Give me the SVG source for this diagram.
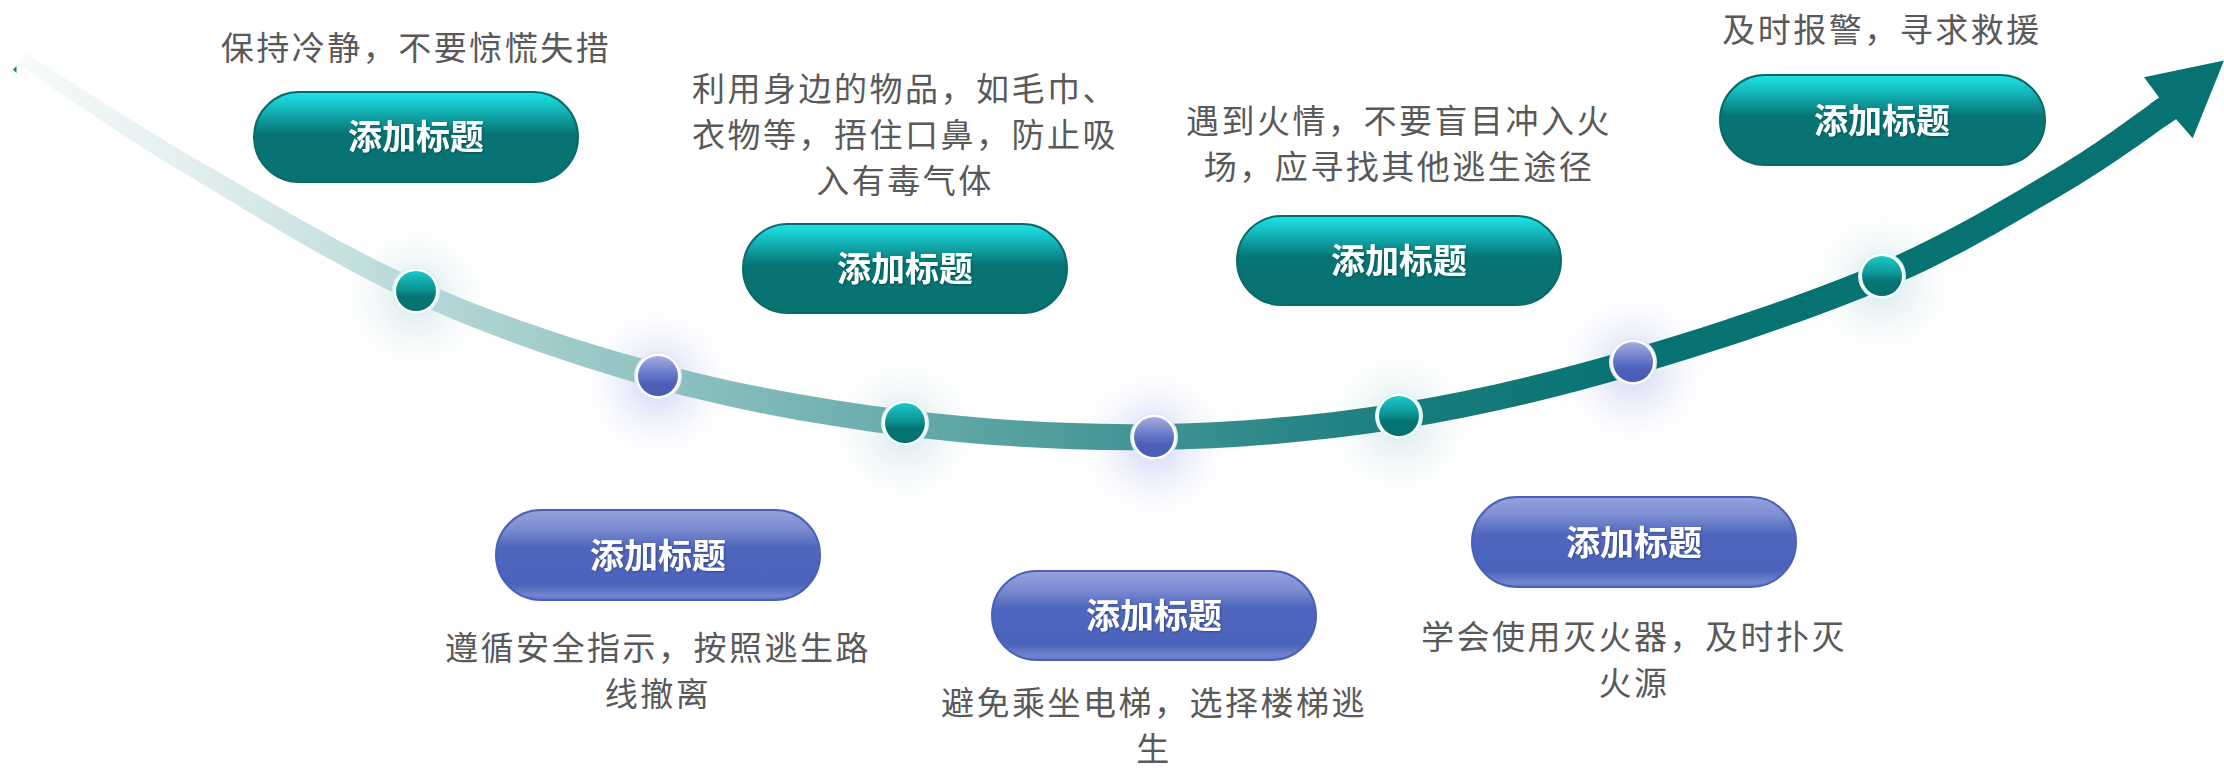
<svg xmlns="http://www.w3.org/2000/svg" width="2224" height="770" viewBox="0 0 2224 770">
<style>
.desc{font-family:"Noto Sans CJK SC","Noto Sans",sans-serif;font-size:33px;fill:#595959;letter-spacing:2.5px;text-anchor:middle}
.title{font-family:"Noto Sans CJK SC","Noto Sans",sans-serif;font-weight:700;font-size:34px;fill:#ffffff;text-anchor:middle;filter:url(#ts)}
.pt{fill:url(#pillTeal);stroke:#0a6969;stroke-width:2}
.pb{fill:url(#pillBlue);stroke:#4a60b8;stroke-width:2}
.haloT{fill:#d2f6f8}
.haloB{fill:#e2e5f8}
.ring{fill:#ffffff}
.dt{fill:url(#dotTeal)}
.db{fill:url(#dotBlue)}
</style>
<defs>
<linearGradient id="band" gradientUnits="userSpaceOnUse" x1="18" y1="0" x2="1700" y2="0">
<stop offset="0" stop-color="#f7fbfb"/>
<stop offset="0.102" stop-color="#e3efef"/>
<stop offset="0.237" stop-color="#b8d8d8"/>
<stop offset="0.380" stop-color="#90c2c2"/>
<stop offset="0.527" stop-color="#68abab"/>
<stop offset="0.675" stop-color="#3f9393"/>
<stop offset="0.821" stop-color="#1a7d7d"/>
<stop offset="0.960" stop-color="#077272"/>
<stop offset="1" stop-color="#077272"/>
</linearGradient>
<linearGradient id="pillTeal" x1="0" y1="0" x2="0" y2="1">
<stop offset="0" stop-color="#1ee4e6"/>
<stop offset="0.12" stop-color="#17c9cc"/>
<stop offset="0.3" stop-color="#0f9c9e"/>
<stop offset="0.46" stop-color="#077474"/>
<stop offset="1" stop-color="#077272"/>
</linearGradient>
<linearGradient id="pillBlue" x1="0" y1="0" x2="0" y2="1">
<stop offset="0" stop-color="#95a2db"/>
<stop offset="0.2" stop-color="#7d8dd1"/>
<stop offset="0.42" stop-color="#4f66be"/>
<stop offset="0.82" stop-color="#4a63bb"/>
<stop offset="0.95" stop-color="#7284cf"/>
<stop offset="1" stop-color="#5f74c6"/>
</linearGradient>
<linearGradient id="dotTeal" x1="0" y1="0" x2="0" y2="1">
<stop offset="0" stop-color="#1cc8c8"/>
<stop offset="0.45" stop-color="#0c9494"/>
<stop offset="0.62" stop-color="#077575"/>
<stop offset="1" stop-color="#067070"/>
</linearGradient>
<linearGradient id="dotBlue" x1="0" y1="0" x2="0" y2="1">
<stop offset="0" stop-color="#a3addf"/>
<stop offset="0.5" stop-color="#6272c6"/>
<stop offset="0.7" stop-color="#4c5fb9"/>
<stop offset="1" stop-color="#4a5cb6"/>
</linearGradient>
<radialGradient id="glowTeal">
<stop offset="0" stop-color="#cfe3e6" stop-opacity="0.85"/>
<stop offset="0.45" stop-color="#e4eff1" stop-opacity="0.5"/>
<stop offset="1" stop-color="#ffffff" stop-opacity="0"/>
</radialGradient>
<radialGradient id="glowBlue">
<stop offset="0" stop-color="#c9cff2" stop-opacity="0.9"/>
<stop offset="0.45" stop-color="#dfe3f7" stop-opacity="0.5"/>
<stop offset="1" stop-color="#ffffff" stop-opacity="0"/>
</radialGradient>
<filter id="ts" x="-10%" y="-20%" width="120%" height="140%">
<feDropShadow dx="1" dy="1" stdDeviation="0.8" flood-color="#000000" flood-opacity="0.3"/>
</filter>
</defs>
<rect width="2224" height="770" fill="#ffffff"/>
<g id="glows">
<circle cx="416" cy="298" r="85" fill="url(#glowTeal)"/>
<circle cx="658" cy="383" r="85" fill="url(#glowBlue)"/>
<circle cx="905" cy="430" r="85" fill="url(#glowTeal)"/>
<circle cx="1154" cy="444" r="85" fill="url(#glowBlue)"/>
<circle cx="1399" cy="423" r="85" fill="url(#glowTeal)"/>
<circle cx="1633" cy="369" r="85" fill="url(#glowBlue)"/>
<circle cx="1882" cy="283" r="85" fill="url(#glowTeal)"/>
</g>
<g id="connectors">
<path d="M16.5,66 L13,69.5 L16.5,73 Z" fill="#177c7c"/>
<path fill="url(#band)" d="M25.8,53.1 C53.9,70.6 128.8,120.2 194.6,158.2 C260.4,196.2 342.7,246.7 420.5,281.0 C498.3,315.3 580.3,342.4 661.3,363.9 C742.3,385.4 824.5,400.1 906.6,410.1 C988.7,420.1 1072.1,425.2 1153.8,424.0 C1235.5,422.9 1317.7,415.6 1397.0,403.2 C1476.3,390.8 1549.4,372.7 1629.4,349.5 C1709.4,326.3 1806.2,294.0 1876.9,264.0 C1947.6,234.1 2006.2,197.7 2053.4,169.8 C2100.7,141.9 2142.6,109.0 2160.4,96.8 L2175.6,119.2 C2157.4,131.4 2114.7,164.1 2066.6,192.2 C2018.5,220.3 1958.8,257.6 1887.1,288.0 C1815.4,318.4 1717.6,351.0 1636.6,374.5 C1555.6,398.0 1481.4,416.2 1401.0,428.8 C1320.6,441.4 1237.1,448.8 1154.2,450.0 C1071.3,451.2 986.7,446.2 903.4,435.9 C820.2,425.6 736.7,410.6 654.7,388.1 C572.7,365.6 489.7,336.7 411.5,301.0 C333.3,265.3 251.0,213.2 185.4,173.8 C119.9,134.5 46.1,83.1 18.2,64.9 Z"/>
<path fill="#077272" d="M2144,77.3 L2224,60.5 L2192.7,138.3 L2176,119 L2166,126 L2150,104 L2159.3,97.7 Z"/>
</g>
<g id="step1">
<circle class="haloT" cx="416" cy="291" r="24"/>
<circle class="ring" cx="416" cy="291" r="22.5"/>
<circle class="dt" cx="416" cy="291" r="20"/>
<rect class="pt" x="254" y="92" width="324" height="90" rx="45"/>
<text class="title" x="416" y="149">添加标题</text>
<text class="desc" x="416" y="59.5">保持冷静，不要惊慌失措</text>
</g>
<g id="step2">
<circle class="haloB" cx="658" cy="376" r="24"/>
<circle class="ring" cx="658" cy="376" r="22.5"/>
<circle class="db" cx="658" cy="376" r="20"/>
<rect class="pb" x="496" y="510" width="324" height="90" rx="45"/>
<text class="title" x="658" y="568">添加标题</text>
<text class="desc" x="658" y="659.5">遵循安全指示，按照逃生路</text>
<text class="desc" x="658" y="705.5">线撤离</text>
</g>
<g id="step3">
<circle class="haloT" cx="905" cy="423" r="24"/>
<circle class="ring" cx="905" cy="423" r="22.5"/>
<circle class="dt" cx="905" cy="423" r="20"/>
<rect class="pt" x="743" y="224" width="324" height="89" rx="44.5"/>
<text class="title" x="905" y="281">添加标题</text>
<text class="desc" x="905" y="101">利用身边的物品，如毛巾、</text>
<text class="desc" x="905" y="147">衣物等，捂住口鼻，防止吸</text>
<text class="desc" x="905" y="193">入有毒气体</text>
</g>
<g id="step4">
<circle class="haloB" cx="1154" cy="437" r="24"/>
<circle class="ring" cx="1154" cy="437" r="22.5"/>
<circle class="db" cx="1154" cy="437" r="20"/>
<rect class="pb" x="992" y="571" width="324" height="89" rx="44.5"/>
<text class="title" x="1154" y="628">添加标题</text>
<text class="desc" x="1154" y="715">避免乘坐电梯，选择楼梯逃</text>
<text class="desc" x="1154" y="761">生</text>
</g>
<g id="step5">
<circle class="haloT" cx="1399" cy="416" r="24"/>
<circle class="ring" cx="1399" cy="416" r="22.5"/>
<circle class="dt" cx="1399" cy="416" r="20"/>
<rect class="pt" x="1237" y="216" width="324" height="89" rx="44.5"/>
<text class="title" x="1399" y="273">添加标题</text>
<text class="desc" x="1399" y="132.5">遇到火情，不要盲目冲入火</text>
<text class="desc" x="1399" y="178.5">场，应寻找其他逃生途径</text>
</g>
<g id="step6">
<circle class="haloB" cx="1633" cy="362" r="24"/>
<circle class="ring" cx="1633" cy="362" r="22.5"/>
<circle class="db" cx="1633" cy="362" r="20"/>
<rect class="pb" x="1472" y="497" width="324" height="90" rx="45"/>
<text class="title" x="1634" y="555">添加标题</text>
<text class="desc" x="1634" y="648.5">学会使用灭火器，及时扑灭</text>
<text class="desc" x="1634" y="694.5">火源</text>
</g>
<g id="step7">
<circle class="haloT" cx="1882" cy="276" r="24"/>
<circle class="ring" cx="1882" cy="276" r="22.5"/>
<circle class="dt" cx="1882" cy="276" r="20"/>
<rect class="pt" x="1720" y="75" width="325" height="90" rx="45"/>
<text class="title" x="1882" y="133">添加标题</text>
<text class="desc" x="1882" y="41.5">及时报警，寻求救援</text>
</g>
</svg>
